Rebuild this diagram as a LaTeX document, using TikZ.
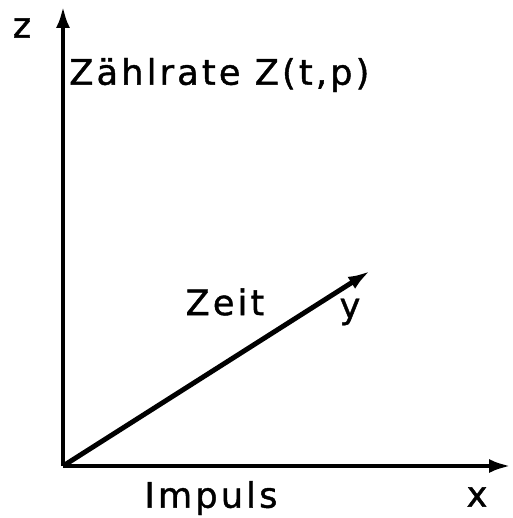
\documentclass[tikz,border=0pt]{standalone}
\usepackage{fontspec}
\setmainfont{DejaVu Sans}
\usetikzlibrary{arrows.meta}

\begin{document}
\begin{tikzpicture}[x=0.02cm,y=-0.02cm,
  axis/.style={-{Latex[length=4.4mm,width=2.8mm]},line width=2.8pt},
  lbl/.style={font=\fontsize{20}{24}\selectfont\addfontfeature{LetterSpace=9,FakeBold=1.2},inner sep=0pt}
]
\useasboundingbox (0,0) rectangle (512,518);

% origin and axis ends
\coordinate (o) at (63,466);
\coordinate (zend) at (63,6);
\coordinate (xend) at (511,466);
\coordinate (yend) at (370,271);

% axes
\draw[axis] (o) -- (zend);
\draw[axis] (o) -- (xend);
\draw[axis] (o) -- (yend);

% axis letters
\node[lbl] (zl) at (22,28) {z};
\node[lbl] (xl) at (477,497) {x};
\node[lbl] (yl) at (350,312) {y};

% quantities
\node[lbl,anchor=west] (rate) at (69,75) {Zählrate Z(t,p)};
\node[lbl] (zeit) at (225,302) {Zeit};
\node[lbl] (impuls) at (211,498) {Impuls};

\end{tikzpicture}
\end{document}
